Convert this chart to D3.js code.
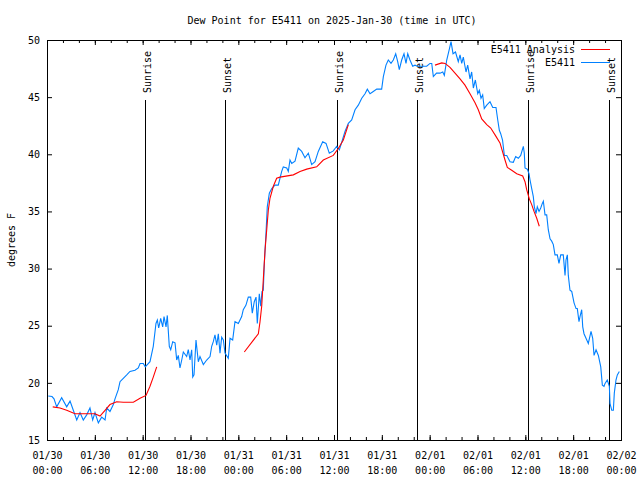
<!DOCTYPE html>
<html><head><meta charset="utf-8">
<script src="https://cdn.jsdelivr.net/npm/d3@7"></script>
<style>
body{margin:0;background:#fff}
text{font-family:"DejaVu Sans Mono",monospace;font-size:10px;fill:#000}
</style>
</head><body><svg id="c" width="640" height="480"></svg>
<script>
// ---------- data ----------
const titleText = "Dew Point for E5411 on 2025-Jan-30 (time in UTC)";
const yLabel = "degrees F";
const startUTC = "2025-01-30T00:00:00Z";
const endUTC = "2025-02-02T00:00:00Z";
const yTicks = [15, 20, 25, 30, 35, 40, 45, 50];
const seriesNames = ["E5411 Analysis", "E5411"];

// observed (hours after start, degrees F)
const obsHours = [0.16,0.63,0.88,1.22,1.84,2.47,2.89,3.30,3.73,4.14,4.55,4.98,5.39,5.73,6.02,6.44,6.86,7.28,7.49,7.90,8.32,8.53,8.94,9.16,9.57,10.00,10.41,11.04,11.45,11.67,12.08,12.33,12.92,13.33,13.67,13.84,14.01,14.26,14.51,14.68,14.93,15.09,15.34,15.52,15.77,16.06,16.27,16.47,16.68,16.90,17.10,17.52,17.72,17.94,18.15,18.28,18.44,18.69,18.98,19.19,19.61,20.03,20.45,20.66,20.86,21.07,21.29,21.49,21.70,21.91,22.12,22.33,22.74,22.96,23.29,23.58,24.00,24.42,24.62,24.96,25.25,25.55,25.75,26.00,26.22,26.38,26.63,26.81,26.97,27.13,27.26,27.47,27.63,27.89,28.19,28.60,29.01,29.44,29.64,30.07,30.27,30.48,30.70,31.11,31.52,31.95,32.36,32.78,33.20,33.62,34.03,34.58,35.00,35.41,35.91,36.34,36.67,36.97,37.38,37.80,38.22,38.64,39.05,39.48,39.89,40.18,40.52,40.93,41.36,41.98,42.19,42.52,42.81,43.15,43.44,43.74,43.99,44.19,44.49,44.78,45.03,45.25,45.53,45.87,46.16,46.45,46.79,47.63,48.04,48.26,48.46,48.86,49.30,49.64,49.84,50.14,50.43,50.68,50.93,51.24,51.59,51.81,52.02,52.22,52.56,52.77,53.06,53.27,53.48,53.73,54.03,54.23,54.44,54.65,54.85,55.16,55.57,55.91,56.32,56.54,56.74,56.91,57.14,57.37,57.67,58.08,58.49,58.79,59.12,59.42,59.75,59.87,59.96,60.25,60.46,60.59,60.80,61.00,61.13,61.34,61.50,61.72,61.93,62.13,62.26,62.47,62.68,62.88,63.10,63.31,63.51,63.72,64.01,64.22,64.44,64.76,64.98,65.10,65.27,65.39,65.60,65.82,66.11,66.36,66.52,66.73,66.86,67.07,67.20,67.36,67.61,67.90,68.24,68.45,68.62,68.87,69.16,69.46,69.66,69.87,70.00,70.28,70.54,70.62,70.84,71.04,71.16,71.37,71.54,71.79];
const obsValues = [18.85,18.8,18.6,17.9,18.7,17.9,18.4,17.6,16.75,17.4,16.75,17.2,17.8,16.75,17.4,16.5,17.0,16.75,17.8,17.5,18.1,18.6,19.4,20.1,20.4,20.7,21.0,21.1,21.3,21.7,21.7,21.4,21.85,23.2,25.2,25.5,24.8,25.65,24.9,25.8,24.9,25.9,23.2,22.9,23.6,23.5,22.0,22.4,21.3,22.0,22.7,22.3,22.9,22.0,22.9,20.5,20.7,23.75,21.85,22.3,21.6,22.0,22.3,23.2,23.6,24.2,23.3,24.3,22.6,24.0,23.75,22.6,22.15,23.9,23.75,25.35,25.2,25.8,26.4,26.8,27.5,27.5,26.1,27.1,27.5,25.2,27.8,26.7,28.0,28.1,30.45,33.1,35.4,36.6,37.0,37.3,37.3,38.5,38.9,38.8,38.5,39.5,39.2,39.4,40.55,40.25,39.7,40.1,39.1,39.35,40.25,41.1,40.95,40.1,40.3,40.7,40.4,41.05,42.0,42.7,43.0,43.9,44.3,44.9,45.3,45.7,45.3,45.5,45.7,45.7,46.8,47.8,48.25,47.95,48.25,48.8,48.1,47.4,48.25,48.8,47.95,48.8,48.25,47.7,47.8,47.7,47.7,47.7,47.95,47.95,46.8,47.1,47.1,47.2,46.9,48.25,49.1,49.85,48.8,48.95,48.1,48.7,47.95,48.5,47.2,47.8,46.6,47.2,45.8,46.5,45.3,45.6,44.9,45.2,44.0,44.3,44.6,44.1,44.1,43.0,42.1,41.8,41.25,39.9,39.9,39.35,39.3,39.8,39.65,39.9,40.7,40.1,38.8,38.7,38.3,37.75,37.0,36.3,35.4,34.8,35.4,35.0,35.3,35.7,35.9,34.7,34.7,33.4,32.6,32.4,32.1,31.2,31.2,30.45,31.2,31.2,29.4,30.75,31.2,29.4,28.1,28.0,27.0,26.5,26.5,25.35,25.8,26.4,24.9,24.3,23.9,23.45,24.5,23.9,22.4,22.9,22.4,21.4,19.8,19.7,19.95,20.25,19.7,18.2,17.6,17.6,19.1,20.25,20.7,21.0];

// analysis (null = gap)
const anaHours = [0.72,1.63,2.47,3.51,4.98,6.02,6.65,7.28,7.90,8.74,9.57,10.83,11.67,12.42,12.92,13.33,13.76,null,24.75,26.51,26.72,26.93,27.13,27.35,27.56,27.76,27.97,28.39,28.81,29.23,30.90,31.74,32.58,33.83,34.66,35.91,36.54,37.17,37.80,null,48.67,49.51,49.93,50.55,51.18,51.81,52.43,53.06,53.69,54.10,54.53,55.16,55.66,56.20,56.82,57.03,57.45,57.74,58.29,58.92,59.67,59.96,60.17,60.50,60.80,61.09,61.43,61.75];
const anaValues = [17.9,17.8,17.6,17.3,17.3,17.3,17.1,17.6,18.1,18.35,18.3,18.3,18.65,18.9,19.7,20.5,21.4,null,22.7,24.3,25.35,26.7,29.0,31.6,33.4,35.1,36.15,37.2,37.9,38.0,38.2,38.5,38.7,38.9,39.5,39.9,40.5,41.25,42.6,null,47.8,48.0,47.95,47.6,47.1,46.6,46.05,45.3,44.5,43.9,43.1,42.6,42.3,41.7,41.0,40.5,39.5,38.85,38.6,38.3,38.1,37.6,36.9,36.1,35.6,35.0,34.4,33.7];

const sunLabels = ["Sunrise","Sunset","Sunrise","Sunset","Sunrise","Sunset"];
const sunTimes = ["2025-01-30T12:20:00Z","2025-01-30T22:22:00Z","2025-01-31T12:21:00Z","2025-01-31T22:25:00Z","2025-02-01T12:22:00Z","2025-02-01T22:31:00Z"];

// ---------- chart ----------
const svg = d3.select("#c");
const L = 47, R = 621, T = 40, B = 440;
const t0 = new Date(startUTC);
const toDate = h => new Date(t0.getTime() + h * 3600000);
const x = d3.scaleUtc().domain([t0, new Date(endUTC)]).range([L, R]);
const y = d3.scaleLinear().domain([15, 50]).range([B, T]);

const obs = obsHours.map((h, i) => ({t: toDate(h), v: obsValues[i]}));
const ana = anaHours.map((h, i) => ({t: h == null ? null : toDate(h), v: anaValues[i]}));

// title
svg.append("text").attr("x", 332).attr("y", 24).attr("text-anchor", "middle").text(titleText);
// y label
svg.append("text").attr("transform", "translate(15,240) rotate(-90)").attr("text-anchor", "middle").text(yLabel);

// minor x ticks (every 2h), bottom and top
const minor = d3.utcHour.every(2).range(x.domain()[0], x.domain()[1]);
svg.append("g").attr("transform", `translate(0,${B})`)
  .call(d3.axisBottom(x).tickValues(minor).tickSize(-3).tickFormat(""))
  .call(g => g.select(".domain").remove());
svg.append("g").attr("transform", `translate(0,${T})`)
  .call(d3.axisTop(x).tickValues(minor).tickSize(-3).tickFormat(""))
  .call(g => g.select(".domain").remove());

// major x ticks
const major = d3.utcHour.every(6).range(x.domain()[0], new Date(x.domain()[1].getTime() + 1));
const fmtD = d3.utcFormat("%m/%d"), fmtT = d3.utcFormat("%H:%M");
const xb = svg.append("g").attr("transform", `translate(0,${B})`)
  .call(d3.axisBottom(x).tickValues(major).tickSize(-5).tickPadding(0).tickFormat(""));
xb.select(".domain").remove();
xb.selectAll(".tick").each(function(d) {
  const t = d3.select(this).append("text").attr("fill", "#000").attr("text-anchor", "middle")
    .style("font-family", '"DejaVu Sans Mono",monospace').style("font-size", "10px");
  t.append("tspan").attr("x", 0).attr("y", 19).text(fmtD(d));
  t.append("tspan").attr("x", 0).attr("y", 34).text(fmtT(d));
});
svg.append("g").attr("transform", `translate(0,${T})`)
  .call(d3.axisTop(x).tickValues(major).tickSize(-5).tickFormat(""))
  .call(g => g.select(".domain").remove());

// y ticks
const yl = svg.append("g").attr("transform", `translate(${L},0)`)
  .call(d3.axisLeft(y).tickValues(yTicks).tickSize(-5).tickPadding(7).tickFormat(d3.format("d")));
yl.select(".domain").remove();
yl.selectAll("text").style("font-family", '"DejaVu Sans Mono",monospace').style("font-size", "10px").attr("fill", "#000");
svg.append("g").attr("transform", `translate(${R},0)`)
  .call(d3.axisRight(y).tickValues(yTicks).tickSize(-5).tickFormat(""))
  .call(g => g.select(".domain").remove());

svg.selectAll(".tick line").attr("stroke", "#000");

// sun lines
const sun = sunTimes.map((s, i) => ({t: new Date(s), label: sunLabels[i]}));
const sg = svg.append("g").selectAll("g").data(sun).join("g");
sg.append("line")
  .attr("x1", d => Math.round(x(d.t)) + 0.5).attr("x2", d => Math.round(x(d.t)) + 0.5)
  .attr("y1", 100).attr("y2", B).attr("stroke", "#000").attr("stroke-width", 1);
sg.append("text")
  .attr("transform", d => `translate(${Math.round(x(d.t)) + 2},93) rotate(-90)`)
  .attr("dominant-baseline", "central").text(d => d.label);

// lines
const line = d3.line().defined(d => d.v != null && d.t != null).x(d => x(d.t)).y(d => y(d.v));
svg.append("path").datum(obs).attr("d", line).attr("fill", "none").attr("stroke", "#0080ff").attr("stroke-width", 1.1);
svg.append("path").datum(ana).attr("d", line).attr("fill", "none").attr("stroke", "#ff0000").attr("stroke-width", 1.1);

// legend
const legColors = ["#ff0000", "#0080ff"];
const lg = svg.append("g").selectAll("g").data(seriesNames).join("g")
  .attr("transform", (d, i) => `translate(0,${49 + i * 13})`);
lg.append("text").attr("x", 575).attr("y", 0).attr("text-anchor", "end").attr("dominant-baseline", "central").text(d => d);
lg.append("line").attr("x1", 581).attr("x2", 610).attr("y1", 0.5).attr("y2", 0.5)
  .attr("stroke", (d, i) => legColors[i]).attr("stroke-width", 1);

// frame
svg.append("rect").attr("x", L + 0.5).attr("y", T + 0.5).attr("width", R - L).attr("height", B - T)
  .attr("fill", "none").attr("stroke", "#000").attr("stroke-width", 1);
</script>
</body></html>
